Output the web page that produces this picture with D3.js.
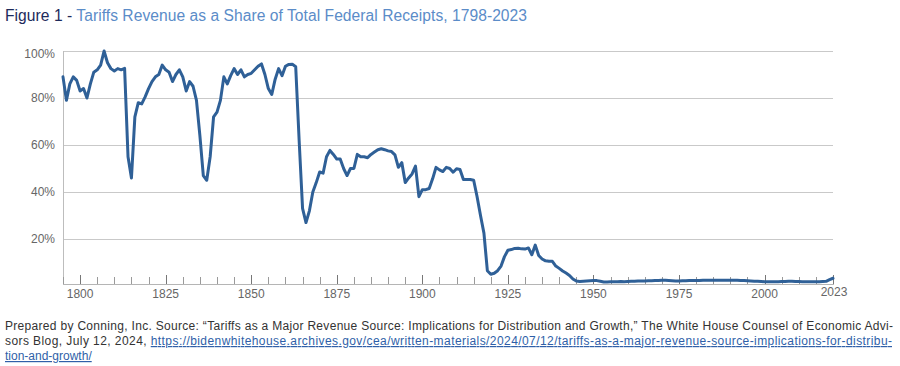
<!DOCTYPE html>
<html>
<head>
<meta charset="utf-8">
<script src="https://cdn.jsdelivr.net/npm/d3@7"></script>
<style>
  body { margin: 0; background: #fff; }
  svg { display: block; font-family: "Liberation Sans", Arial, sans-serif; }
  .yLabel, .xLabel { fill: #666; font-size: 12px; }
  .foot { fill: #333; font-size: 12px; }
  .link { fill: #2f5fa8; text-decoration: underline; }
</style>
</head>
<body>
<svg id="chart" width="900" height="366"></svg>
<script>
// years as read on the chart's own axis (first point at the left edge, last at the right)
const firstYear = 1795;
const shares = [
  89, 79, 86, 89, 87.5, 83, 84, 80, 86, 91,            // 1795-1804
  92, 94, 100, 95, 92.5, 91.5, 92.5, 92, 92.6, 55,     // 1805-1814
  46, 72, 78, 77.5, 80.5, 84, 87, 89, 90, 94,          // 1815-1824
  92, 91, 87, 90, 92, 89, 83, 87, 85, 79,              // 1825-1834
  64, 47, 45, 55, 72, 74, 79, 89, 86, 89.5,            // 1835-1844
  92.5, 90, 92, 89, 90, 90.5, 92, 93.5, 94.5, 90,      // 1845-1854
  84, 81.5, 88, 92.5, 89.5, 93.5, 94.3, 94.4, 93.3, 62, // 1855-1864
  33, 27, 32, 40, 44, 48.5, 48, 55, 57.7, 56,          // 1865-1874
  54, 54, 50, 47, 50, 50, 56, 55, 55, 54.6,            // 1875-1884
  56, 57, 58, 58.4, 58, 57.5, 57.2, 55.8, 50.5, 52.5,  // 1885-1894
  44, 46, 47.7, 51, 38, 41, 41, 41.5, 45.6, 50.5,      // 1895-1904
  49.4, 48.7, 50.5, 50, 48.4, 49.9, 49.6, 45.3, 45.3, 45.3, // 1905-1914
  45, 38, 30, 22.5, 6.5, 5, 5.4, 6.5, 8.5, 12.5,       // 1915-1924
  15.2, 15.5, 16, 16.1, 15.8, 15.7, 16.2, 13.3, 17.4, 13, // 1925-1934
  11.5, 10.7, 10.5, 10.5, 8.5, 7.5, 6.4, 5.5, 4.5, 3,  // 1935-1944
  2.1, 1.9, 2.0, 2.1, 2.2, 2.3, 2.3, 2.0, 1.7, 1.7,    // 1945-1954
  1.8, 1.8, 1.8, 1.9, 1.8, 1.9, 2.0, 2.0, 2.1, 2.1,    // 1955-1964
  2.1, 2.2, 2.2, 2.3, 2.3, 2.4, 2.4, 2.3, 2.2, 2.1,    // 1965-1974
  2.1, 2.2, 2.2, 2.3, 2.3, 2.3, 2.3, 2.4, 2.4, 2.4,    // 1975-1984
  2.5, 2.5, 2.4, 2.4, 2.4, 2.4, 2.4, 2.4, 2.3, 2.3,    // 1985-1994
  2.2, 2.1, 2.0, 2.0, 1.9, 1.8, 1.8, 1.8, 1.8, 1.8,    // 1995-2004
  1.9, 1.9, 2.0, 2.0, 1.9, 1.9, 1.8, 1.8, 1.8, 1.8,    // 2005-2014
  1.8, 1.8, 1.9, 2.0, 2.7, 3.3                         // 2015-2020
];
const yTicks = [20, 40, 60, 80, 100];
const xMajor = [1800, 1825, 1850, 1875, 1900, 1925, 1950, 1975, 2000];
const endLabel = "2023";

const titleLead = "Figure 1 - ";
const titleText = "Tariffs Revenue as a Share of Total Federal Receipts, 1798-2023";

const footLines = [
  "Prepared by Conning, Inc. Source: \u201cTariffs as a Major Revenue Source: Implications for Distribution and Growth,\u201d The White House Counsel of Economic Advi-",
  "sors Blog, July 12, 2024, ",
  "https://bidenwhitehouse.archives.gov/cea/written-materials/2024/07/12/tariffs-as-a-major-revenue-source-implications-for-distribu-",
  "tion-and-growth/"
];

let data = shares.map(function(v, i) {
  return { year: firstYear + i, value: v };
});

const svg = d3.select('#chart');
const plotLeft = 63, plotRight = 833, plotTop = 51, plotBottom = 284;

let x = d3.scaleLinear()
  .domain([firstYear, firstYear + shares.length - 1])
  .range([plotLeft, plotRight]);

let y = d3.scaleLinear()
  .domain([0, 100])
  .range([286, plotTop]);

//title
let title = svg.append('text')
  .attr('x', 5)
  .attr('y', 21)
  .attr('textLength', 522)
  .attr('lengthAdjust', 'spacing')
  .style('font-size', '15.6px');
title.append('tspan').attr('fill', '#1d2a5b').text(titleLead);
title.append('tspan').attr('fill', '#5b8cc8').text(titleText);

//grid
svg.append('g')
  .selectAll('line')
  .data(yTicks)
  .enter()
  .append('line')
  .attr('x1', plotLeft)
  .attr('x2', plotRight)
  .attr('y1', function(d) { return Math.round(y(d)) + 0.5; })
  .attr('y2', function(d) { return Math.round(y(d)) + 0.5; })
  .attr('stroke', '#c9c9c9')
  .attr('stroke-width', 1);

svg.append('g')
  .selectAll('text')
  .data(yTicks)
  .enter()
  .append('text')
  .classed('yLabel', true)
  .attr('x', 55)
  .attr('y', function(d) { return d == 100 ? y(d) + 3 : y(d); })
  .attr('dy', '0.35em')
  .attr('text-anchor', 'end')
  .text(function(d) { return d + '%'; });

//axes lines
svg.append('line')
  .attr('x1', plotLeft + 0.5).attr('x2', plotLeft + 0.5)
  .attr('y1', plotTop).attr('y2', plotBottom)
  .attr('stroke', '#bdbdbd');

svg.append('line')
  .attr('x1', plotLeft).attr('x2', plotRight + 1)
  .attr('y1', plotBottom + 0.5).attr('y2', plotBottom + 0.5)
  .attr('stroke', '#b5b5b5');

//ticks every 5 years, labelled every 25
let minor = d3.range(firstYear, firstYear + shares.length, 5);
svg.append('g')
  .selectAll('line')
  .data(minor)
  .enter()
  .append('line')
  .attr('x1', function(d) { return Math.round(x(d)) + 0.5; })
  .attr('x2', function(d) { return Math.round(x(d)) + 0.5; })
  .attr('y1', plotBottom)
  .attr('y2', function(d) { return xMajor.indexOf(d) >= 0 ? plotBottom - 9 : plotBottom - 7; })
  .attr('stroke', function(d) { return xMajor.indexOf(d) >= 0 ? '#777' : '#9a9a9a'; });

svg.append('g')
  .selectAll('text')
  .data(xMajor)
  .enter()
  .append('text')
  .classed('xLabel', true)
  .attr('x', function(d) { return x(d); })
  .attr('y', 298)
  .attr('text-anchor', 'middle')
  .text(function(d) { return d; });

svg.append('line')
  .attr('x1', plotRight + 0.5).attr('x2', plotRight + 0.5)
  .attr('y1', plotBottom - 9).attr('y2', plotBottom)
  .attr('stroke', '#777');

svg.append('text')
  .classed('xLabel', true)
  .attr('x', plotRight + 1)
  .attr('y', 296)
  .attr('text-anchor', 'middle')
  .text(endLabel);

//the series
let line = d3.line()
  .x(function(d) { return x(d.year); })
  .y(function(d) { return y(d.value); });

svg.append('path')
  .datum(data)
  .attr('d', line)
  .attr('fill', 'none')
  .attr('stroke', '#2f6097')
  .attr('stroke-width', 3)
  .attr('stroke-linejoin', 'round')
  .attr('stroke-linecap', 'round');

//footnote, justified like the source
svg.append('text')
  .classed('foot', true)
  .attr('x', 5).attr('y', 330)
  .attr('textLength', 888)
  .attr('lengthAdjust', 'spacing')
  .text(footLines[0]);

let foot2 = svg.append('text')
  .classed('foot', true)
  .attr('x', 5).attr('y', 345)
  .attr('textLength', 887)
  .attr('lengthAdjust', 'spacing');
foot2.append('tspan').text(footLines[1]);
foot2.append('tspan').classed('link', true).text(footLines[2]);

svg.append('text')
  .classed('foot', true)
  .attr('x', 5).attr('y', 360)
  .append('tspan')
  .classed('link', true)
  .text(footLines[3]);
</script>
</body>
</html>
